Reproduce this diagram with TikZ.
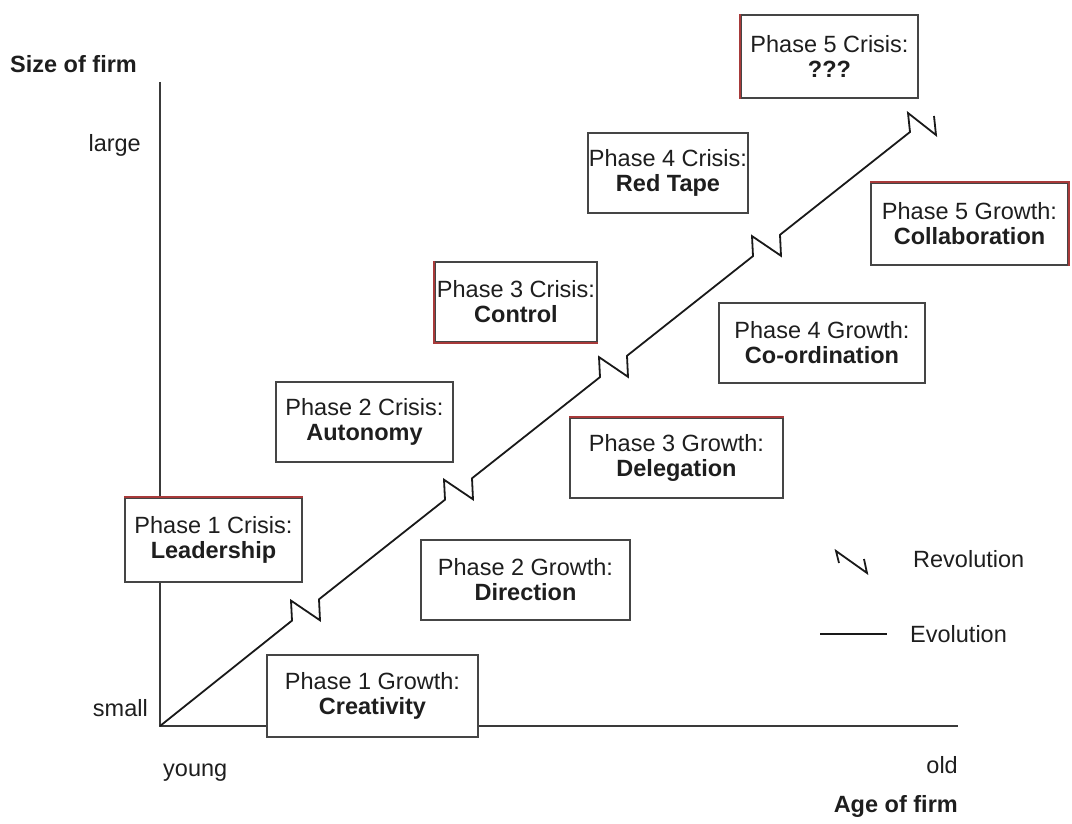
\documentclass[tikz,border=0pt]{standalone}
\usepackage{fontspec}
\setmainfont{Liberation Sans}
\definecolor{txt}{HTML}{1E1E1E}
\definecolor{boxgray}{HTML}{454545}
\definecolor{axisgray}{HTML}{3A3A3A}
\definecolor{redge}{HTML}{A83A3A}
\begin{document}
\begin{tikzpicture}[x=1pt,y=-1pt,
  box/.style={draw=boxgray, line width=1.7pt, fill=white, rectangle, inner sep=0pt,
    align=center, text=txt, font=\fontsize{23.5}{25}\selectfont},
  lbl/.style={inner sep=0pt, text=txt, font=\fontsize{23.5}{25}\selectfont},
  blbl/.style={inner sep=0pt, text=txt, font=\fontsize{23.5}{25}\selectfont\bfseries},
  axis/.style={draw=axisgray, line width=1.8pt},
  diag/.style={draw=black!90, line width=1.8pt, line join=miter},
  rededge/.style={draw=redge, line width=1.7pt}]
\useasboundingbox (0,0) rectangle (1072,824);

% axes
\coordinate (O) at (160,726);
\coordinate (ytop) at (160,82);
\coordinate (xend) at (958,726);
\draw[axis] (ytop) -- (O) -- (xend);

% evolution line with revolutions
\draw[diag] (O) -- (292,620.6) -- ++(-1,-20) -- (320,620.3) -- (319,599.3)
  -- (445,499.7) -- ++(-1,-20) -- (473,499.3) -- (472,478.3)
  -- (600,377.1) -- ++(-1,-20) -- (628,376.8) -- (627,355.8)
  -- (753,256.1) -- ++(-1,-20) -- (781,255.8) -- (780,234.8)
  -- (910,132) -- (908,113) -- (936,135) -- (934,116);

% axis labels
\node[blbl, anchor=base west] (sizef) at (10,73) {Size of firm};
\node[lbl, anchor=base east] (large) at (141,152) {large};
\node[lbl, anchor=base east] (small) at (148,716) {small};
\node[lbl, anchor=base west] (young) at (163,776) {young};
\node[lbl, anchor=base east] (old) at (958,773) {old};
\node[blbl, anchor=base east] (agef) at (958,812) {Age of firm};

% boxes
\node[box, minimum width=177pt, minimum height=83pt] (p5c) at (829.5,56.5) {Phase 5 Crisis:\\\textbf{???}};
\node[box, minimum width=160pt, minimum height=80pt] (p4c) at (668,173) {Phase 4 Crisis:\\\textbf{Red Tape}};
\node[box, minimum width=197pt, minimum height=82pt] (p5g) at (969.5,224) {Phase 5 Growth:\\\textbf{Collaboration}};
\node[box, minimum width=162pt, minimum height=80pt] (p3c) at (516,302) {Phase 3 Crisis:\\\textbf{Control}};
\node[box, minimum width=206pt, minimum height=80pt] (p4g) at (822,343) {Phase 4 Growth:\\\textbf{Co-ordination}};
\node[box, minimum width=177pt, minimum height=80pt] (p2c) at (364.5,422) {Phase 2 Crisis:\\\textbf{Autonomy}};
\node[box, minimum width=213pt, minimum height=80pt] (p3g) at (676.5,458) {Phase 3 Growth:\\\textbf{Delegation}};
\node[box, minimum width=177pt, minimum height=84pt] (p1c) at (213.5,540) {Phase 1 Crisis:\\\textbf{Leadership}};
\node[box, minimum width=209pt, minimum height=80pt] (p2g) at (525.5,580) {Phase 2 Growth:\\\textbf{Direction}};
\node[box, minimum width=211pt, minimum height=82pt] (p1g) at (372.5,696) {Phase 1 Growth:\\\textbf{Creativity}};

% reddish edges
\draw[rededge] (p5c.north west) -- (p5c.south west);
\draw[rededge] (p3c.north west) -- (p3c.south west) -- (p3c.south east);
\draw[rededge] (p5g.north west) -- (p5g.north east) -- (p5g.south east);
\draw[rededge] (p3g.north west) -- (p3g.north east);
\draw[rededge] (p1c.north west) -- (p1c.north east);

% legend
\draw[diag] (839,563) -- (836,551) -- (867,573) -- (864,559);
\node[lbl, anchor=base west] (rev) at (913,567) {Revolution};
\coordinate (evs) at (820,634);
\coordinate (eve) at (887,634);
\draw[diag] (evs) -- (eve);
\node[lbl, anchor=base west] (evo) at (910,642) {Evolution};
\end{tikzpicture}
\end{document}
